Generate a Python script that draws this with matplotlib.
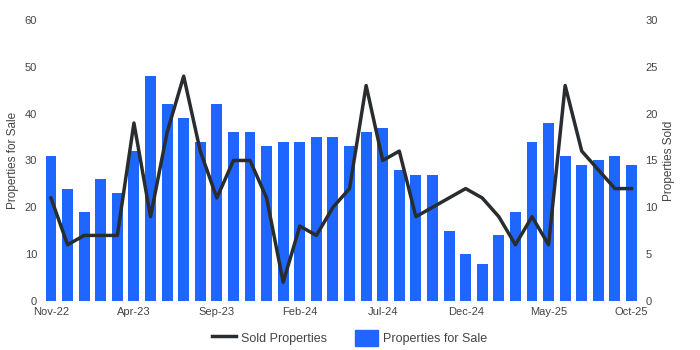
import matplotlib
matplotlib.use("Agg")
from matplotlib import pyplot as plt
from matplotlib.patches import Patch
from matplotlib.lines import Line2D
import numpy as np

plt.rcParams['font.family'] = ['Liberation Sans', 'DejaVu Sans']

months = ["Nov-22", "Dec-22", "Jan-23", "Feb-23", "Mar-23", "Apr-23", "May-23", "Jun-23",
          "Jul-23", "Aug-23", "Sep-23", "Oct-23", "Nov-23", "Dec-23", "Jan-24", "Feb-24",
          "Mar-24", "Apr-24", "May-24", "Jun-24", "Jul-24", "Aug-24", "Sep-24", "Oct-24",
          "Nov-24", "Dec-24", "Jan-25", "Feb-25", "Mar-25", "Apr-25", "May-25", "Jun-25",
          "Jul-25", "Aug-25", "Sep-25", "Oct-25"]
for_sale = [31, 24, 19, 26, 23, 32, 48, 42, 39, 34, 42, 36, 36, 33, 34, 34, 35, 35,
            33, 36, 37, 28, 27, 27, 15, 10, 8, 14, 19, 34, 38, 31, 29, 30, 31, 29]
sold = [11, 6, 7, 7, 7, 19, 9, 18, 24, 16, 11, 15, 15, 11, 2, 8, 7, 10,
        12, 23, 15, 16, 9, 10, 11, 12, 11, 9, 6, 9, 6, 23, 16, 14, 12, 12]

bar_color = "#1f66ff"
line_color = "#2a2d30"
text_color = "#444444"

x = np.arange(len(months))
fig = plt.figure(figsize=(7, 3.5), dpi=100)
ax = fig.add_axes([0.061, 0.14, 0.853, 0.803])
ax.bar(x, for_sale, width=0.66, color=bar_color)
ax.set_xlim(-0.5, len(months) - 0.5)
ax.set_ylim(0, 60)
ax.set_yticks(range(0, 61, 10))
ax.set_xticks(x[::5])
ax.set_xticklabels(months[::5])
ax.set_ylabel("Properties for Sale", color=text_color, fontsize=8.5)

ax2 = ax.twinx()
ax2.plot(x, sold, color=line_color, linewidth=2.5)
ax2.set_ylim(0, 30)
ax2.set_yticks(range(0, 31, 5))
ax2.set_ylabel("Properties Sold", color=text_color, fontsize=8.5)

for a in (ax, ax2):
    for s in a.spines.values():
        s.set_visible(False)
    a.tick_params(length=0, labelsize=8, labelcolor=text_color, pad=4)

handles = [Line2D([0], [0], color=line_color, linewidth=2.5),
           Patch(color=bar_color)]
fig.legend(handles, ["Sold Properties", "Properties for Sale"], loc="lower center",
           ncol=2, frameon=False, fontsize=9, labelcolor=text_color,
           bbox_to_anchor=(0.5, -0.02), columnspacing=2.3, handlelength=1.85,
           handleheight=1.6, handletextpad=0.4)

plt.savefig("out.png", dpi=100)
